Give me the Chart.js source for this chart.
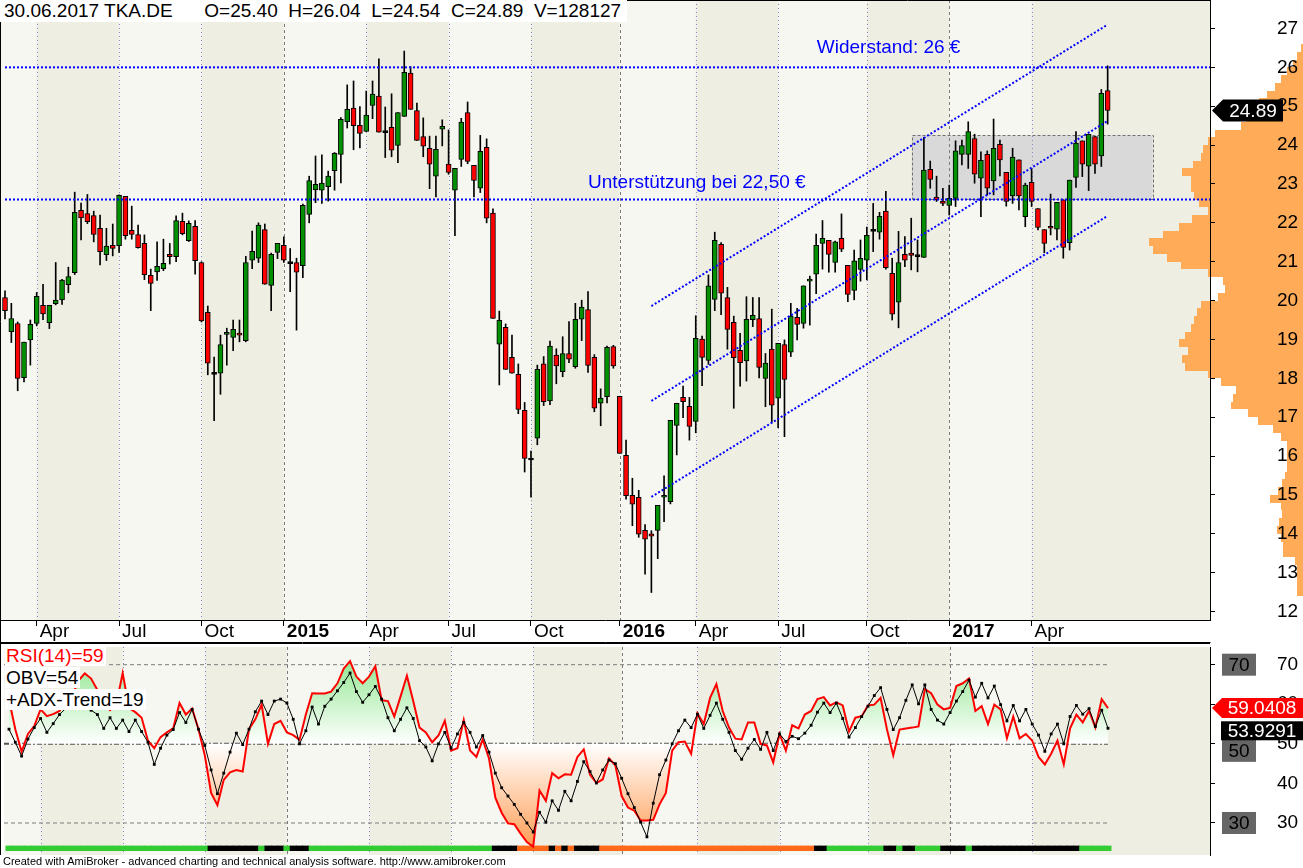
<!DOCTYPE html>
<html>
<head>
<meta charset="utf-8">
<title>TKA.DE weekly</title>
<script src="https://cdn.jsdelivr.net/npm/chart.js@4.4.1/dist/chart.umd.min.js"></script>
<style>
  body { margin: 0; background: #fff; font-family: "Liberation Sans", Arial, sans-serif; }
  #wrap { position: relative; width: 1303px; height: 868px; overflow: hidden; }
  canvas { position: absolute; left: 0; }
  #hdr { position: absolute; left: 0; top: 0; background: #fff; font-size: 19px; line-height: 22px; padding: 0 6px 0 4px; white-space: pre; }
  .tag { position: absolute; left: 5px; background: #fff; font-size: 19px; line-height: 21px; padding: 0 2px 0 1px; white-space: pre; }
  #foot { position: absolute; left: 3px; top: 855px; font-size: 11px; line-height: 13px; }
</style>
</head>
<body>
<div id="wrap">
  <canvas id="price" width="1303" height="643" style="top:0"></canvas>
  <canvas id="ind" width="1303" height="225" style="top:643px"></canvas>
  <div id="hdr"></div>
  <div class="tag" id="lblRsi" style="top:645px;color:#ff0000"></div>
  <div class="tag" id="lblObv" style="top:667px;color:#000"></div>
  <div class="tag" id="lblAdx" style="top:689px;color:#000"></div>
  <div id="foot">Created with AmiBroker - advanced charting and technical analysis software. http://www.amibroker.com</div>
</div>
<script>
// TKA.DE weekly bars, 28.02.2014 - 30.06.2017
var opens = [20.08,19.20,19.41,18.02,18.99,19.41,19.88,19.43,19.92,20.02,
  20.41,20.72,22.32,22.24,22.19,21.86,21.18,21.42,21.41,22.68,
  21.81,21.70,21.47,20.65,20.74,20.82,21.19,21.13,22.04,21.54,
  21.91,20.98,19.70,18.10,18.13,19.13,19.05,19.16,18.97,21.04,
  21.09,21.83,20.39,21.24,21.42,20.95,20.98,20.90,22.22,22.85,
  22.84,22.93,23.34,23.76,24.60,24.95,24.51,24.35,25.02,25.26,
  24.32,24.46,23.99,24.74,25.85,24.89,24.22,23.92,23.20,24.41,
  23.51,22.84,23.63,24.84,23.48,22.89,23.94,22.25,18.88,19.31,
  18.54,18.10,17.18,15.90,16.46,18.37,17.42,18.60,18.17,18.64,
  18.30,19.52,19.77,18.54,17.36,17.53,18.82,17.54,16.02,14.99,
  14.94,14.09,14.00,14.09,14.94,14.83,16.79,17.51,17.28,16.89,
  19.01,18.46,20.03,21.45,20.08,19.44,18.72,18.45,19.51,19.54,
  18.00,18.75,17.49,18.87,18.67,19.57,19.41,20.50,20.68,21.47,
  21.55,20.98,21.60,20.91,20.26,20.80,21.04,21.78,21.76,22.30,
  20.70,19.96,21.19,21.22,21.13,21.11,23.38,22.66,22.56,22.45,
  22.63,23.76,23.76,24.17,23.15,23.76,23.08,24.02,23.30,22.69,
  23.62,22.16,23.04,22.37,21.83,21.91,21.84,22.59,21.49,23.17,
  24.11,23.46,24.22,23.72,25.40];
var highs = [20.25,19.93,19.45,18.93,19.50,20.21,20.42,19.88,20.98,20.55,
  20.86,22.79,22.51,22.73,22.30,22.20,21.86,21.97,22.72,22.68,
  22.43,21.94,21.69,20.81,21.51,21.58,21.47,22.18,22.25,22.05,
  22.06,21.00,19.86,18.55,19.11,19.29,19.50,19.50,21.14,21.79,
  22.00,21.97,21.22,21.47,21.64,21.34,21.09,22.48,23.20,23.72,
  23.75,23.33,23.81,24.71,25.55,25.65,24.99,25.39,25.65,26.22,
  24.98,25.32,24.84,26.42,26.02,25.08,24.70,24.23,24.23,24.65,
  24.39,23.40,24.69,25.11,23.48,24.25,24.16,22.36,19.73,19.40,
  19.11,18.37,17.38,16.13,18.34,18.56,18.96,18.76,19.07,19.46,
  19.93,20.01,20.23,18.61,17.73,18.83,18.85,17.54,16.41,15.43,
  15.12,14.24,14.08,14.73,15.49,16.92,17.36,17.80,17.51,19.61,
  19.09,20.66,21.76,21.49,20.34,19.60,19.16,20.10,20.08,20.08,
  18.64,19.78,18.90,18.99,19.93,19.80,20.38,20.63,21.71,22.06,
  21.55,21.53,22.23,20.91,21.30,21.56,21.89,22.50,22.27,22.81,
  21.09,21.78,21.65,22.12,21.56,24.20,23.59,23.20,22.89,22.97,
  24.11,24.13,24.60,24.28,23.83,23.85,24.67,24.13,23.30,23.92,
  23.62,23.02,23.39,22.37,21.83,22.74,22.53,22.59,23.10,24.35,
  24.11,24.28,24.22,25.43,26.04];
var lows = [19.53,18.92,17.68,17.91,18.34,19.35,19.51,19.28,19.89,19.90,
  20.20,20.67,21.56,21.98,21.51,20.92,21.03,21.15,21.24,21.58,
  21.58,21.35,20.54,19.74,20.52,20.77,20.94,21.00,21.69,21.52,
  20.68,19.45,18.09,16.91,17.59,18.34,18.71,18.94,18.94,20.82,
  20.98,20.42,19.74,21.08,20.98,20.23,19.24,20.59,22.00,22.52,
  22.50,22.56,22.84,23.03,24.44,23.88,23.93,24.35,24.68,24.33,
  23.68,23.70,23.55,24.74,24.92,24.12,23.70,22.88,22.67,23.98,
  23.25,21.67,23.45,23.52,22.67,22.78,22.00,19.54,17.83,18.23,
  18.13,17.09,15.59,14.94,16.29,17.30,17.32,17.86,18.04,18.40,
  18.26,18.97,18.15,17.14,16.78,17.37,18.26,16.07,14.89,14.21,
  13.91,12.96,12.49,13.36,14.31,14.77,16.03,16.99,16.41,16.60,
  17.81,18.36,19.74,19.64,18.75,17.23,17.80,17.93,19.33,18.01,
  17.27,16.87,16.73,16.50,18.56,18.99,19.29,19.37,20.18,20.81,
  20.73,20.73,21.26,19.97,20.02,20.50,20.53,21.26,21.58,20.81,
  19.50,19.30,20.87,20.79,20.74,21.11,22.89,22.55,22.44,22.20,
  22.42,23.49,23.40,23.02,22.16,22.72,22.72,23.21,22.43,22.50,
  22.33,21.90,22.42,21.82,21.23,21.69,21.56,21.09,21.30,22.91,
  23.19,22.83,23.27,23.45,24.54];
var closes = [19.74,19.54,18.00,18.93,19.39,20.11,19.66,19.88,20.01,20.53,
  20.62,22.27,22.13,22.03,21.70,21.26,21.40,21.34,22.71,21.67,
  21.70,21.36,20.67,20.44,20.88,20.96,21.13,22.06,21.72,21.99,
  21.03,19.48,18.39,18.10,18.87,19.18,19.26,19.11,20.98,21.27,
  21.94,20.42,21.19,21.47,21.04,20.95,20.73,22.45,23.09,22.99,
  23.02,23.20,23.79,24.66,24.92,24.50,24.30,24.77,25.31,24.33,
  24.32,23.87,24.84,25.87,24.92,24.12,23.97,23.51,23.89,24.48,
  23.30,23.40,24.59,23.58,23.09,23.84,22.12,19.54,19.49,18.23,
  18.13,17.20,15.94,15.90,18.23,17.40,18.83,18.32,18.64,18.49,
  19.52,19.83,18.33,17.23,17.49,18.80,18.32,16.07,14.98,14.76,
  13.99,13.86,13.94,14.73,14.99,16.92,17.36,17.40,16.76,19.03,
  18.54,20.38,21.55,20.19,19.26,18.53,18.40,19.52,19.62,18.28,
  18.39,17.31,18.90,17.97,19.60,19.39,20.38,20.55,21.42,21.60,
  21.19,21.51,21.32,20.16,21.02,21.09,21.68,21.78,22.17,20.85,
  19.65,20.98,21.04,21.16,21.13,23.36,23.12,22.59,22.50,22.63,
  23.85,23.99,24.35,23.25,23.61,22.89,23.92,23.62,22.55,23.69,
  22.69,22.97,22.55,21.88,21.47,21.86,22.53,21.37,23.10,24.05,
  23.51,24.28,23.51,25.33,24.89];
var lastVolume = 128127;

// indicator pane
var rsi14 = [61.2,53.7,48.0,52.5,54.5,58.7,57.0,57.5,58.3,61.0,
  62.0,66.0,67.8,66.5,63.6,60.0,58.5,60.0,67.9,59.0,
  58.0,56.6,50.8,48.9,51.7,52.9,53.9,60.3,57.4,58.9,
  53.7,47.1,37.6,34.5,40.9,42.8,43.4,43.0,53.7,56.2,
  59.9,50.0,55.0,55.8,52.9,52.2,51.0,57.4,62.8,62.7,
  62.7,63.2,65.3,69.0,70.9,67.0,65.3,67.0,69.6,61.0,
  60.8,56.9,62.0,67.2,60.8,54.1,52.9,50.4,52.1,55.8,
  48.3,48.9,56.0,48.3,46.7,51.1,46.3,36.4,32.6,29.9,
  29.7,27.3,25.2,24.0,38.2,35.6,42.6,41.3,42.3,42.2,
  46.7,48.6,42.2,40.1,41.0,46.3,44.6,36.8,33.9,33.1,
  30.6,30.6,30.8,34.7,37.6,48.3,50.4,50.6,47.5,57.7,
  55.0,61.6,65.1,58.3,54.1,51.3,51.1,55.4,55.4,50.0,
  49.6,45.3,52.5,48.3,54.7,53.9,57.4,58.3,61.3,61.8,
  59.7,60.5,59.7,53.1,56.6,57.0,59.7,59.9,61.6,53.7,
  47.1,53.6,53.9,54.1,54.4,63.8,62.8,59.9,58.7,59.1,
  64.6,65.3,66.5,58.3,59.5,55.0,59.9,58.7,51.4,56.9,
  51.4,52.5,50.8,46.7,44.8,47.5,50.8,44.8,53.9,57.4,
  55.4,58.3,54.1,61.3,59.0408];
var obv = [53.7,50.4,46.9,51.2,54.1,56.4,52.9,55.1,57.4,59.0,
  60.5,61.5,60.0,58.5,57.4,53.9,56.6,53.9,56.0,53.1,
  56.0,53.1,50.4,44.8,48.9,52.2,53.6,57.9,55.4,58.7,
  53.7,49.6,43.4,37.4,42.6,47.9,52.7,49.8,53.7,58.1,
  60.8,57.4,60.8,61.3,60.3,56.2,50.0,53.3,59.3,55.0,
  59.5,61.3,63.4,65.5,67.9,63.2,60.5,62.4,64.5,61.3,
  56.6,53.3,56.2,59.1,56.4,50.8,49.2,45.7,50.0,52.9,
  48.9,52.5,55.4,52.9,49.2,52.1,47.9,42.6,38.9,36.8,
  34.7,32.2,30.0,27.7,32.7,30.2,35.6,33.2,38.0,35.6,
  40.5,45.5,43.0,40.1,43.4,45.9,45.0,41.3,37.4,33.9,
  30.2,26.5,35.0,42.2,45.9,50.0,53.3,56.0,54.1,57.5,
  53.9,57.2,60.3,56.2,52.9,48.3,46.1,48.9,51.1,48.6,
  52.9,48.3,52.5,50.6,51.9,51.3,52.7,54.7,58.0,60.3,
  57.9,60.3,56.4,51.7,54.1,56.9,59.5,62.2,64.2,58.7,
  53.6,56.6,61.0,64.9,60.1,64.9,58.7,56.0,55.0,57.9,
  60.8,63.2,66.1,61.8,65.3,61.6,64.6,59.9,55.8,59.7,
  55.8,58.7,55.0,52.2,48.1,52.5,55.0,50.0,56.9,59.7,
  57.5,58.9,54.4,58.5,53.9291];
var adxNow = 19;
// ADX trend state per bar, as runs of [state, bars]
var adxRuns = [["up",32],["none",8],["up",1],["none",3],["up",1],["none",3],["up",29],
  ["none",4],["down",5],["none",1],["down",1],["none",1],["down",1],["none",4],["down",34],
  ["none",2],["up",9],["none",2],["up",1],["none",2],["up",4],["none",4],["up",1],["none",17],["up",5]];

// axes
var quarterBars = [5, 18, 31, 44, 57, 70, 83, 97, 109, 122, 136, 149, 162];
var quarterLabels = ["Apr", "Jul", "Oct", "2015", "Apr", "Jul", "Oct", "2016", "Apr", "Jul", "Oct", "2017", "Apr"];
var priceTicks = [12, 13, 14, 15, 16, 17, 18, 19, 20, 21, 22, 23, 24, 25, 26, 27];
var rsiTicks = [30, 40, 50, 60, 70];

// drawn studies
var resistance = 26.0;
var support = 22.6;
var channelBars = [102, 174];
var channelUpper = [19.86, 27.10];
var channelMiddle = [17.42, 24.62];
var channelLower = [14.95, 22.18];
var rangeBoxBars = [143.1, 181.1];
var rangeBoxPrices = [22.6, 24.25];
var noteTexts = ["Widerstand: 26 \u20ac", "Unterst\u00fctzung bei 22,50 \u20ac"];
var noteBars = [128.1, 92.0];
var notePrices = [26.5, 23.03];

// volume at price (relative)
var profilePrices = [26.5,26.3,26.1,25.9,25.7,25.5,25.3,25.1,24.9,24.7,
  24.5,24.3,24.1,23.9,23.7,23.5,23.3,23.1,22.9,22.7,
  22.5,22.3,22.1,21.9,21.7,21.5,21.3,21.1,20.9,20.7,
  20.5,20.3,20.1,19.9,19.7,19.5,19.3,19.1,18.9,18.7,
  18.5,18.3,18.1,17.9,17.7,17.5,17.3,17.1,16.9,16.7,
  16.5,16.3,16.1,15.9,15.7,15.5,15.3,15.1,14.9,14.7,
  14.5,14.3,14.1,13.9,13.7,13.5,13.3,13.1,12.9,12.7,12.5];
var profileVolume = [2,6,10,16,22,28,36,44,52,57,
  62,88,95,100,102,110,121,112,112,109,
  104,95,111,124,140,154,150,136,122,95,
  80,78,85,102,106,109,112,118,124,115,
  121,118,95,82,67,70,72,55,45,30,
  22,16,16,16,16,18,21,25,33,22,
  21,24,26,22,20,20,8,6,6,6,6];

Chart.defaults.font.family = '"Liberation Sans", Arial, Helvetica, sans-serif';
Chart.defaults.font.size = 19;
Chart.defaults.color = '#000';

var X_MIN = -0.79, X_MAX = 190.15;
var last = closes.length - 1;
var FONT = '19px "Liberation Sans", Arial, sans-serif';

function drawBands(ctx, area, x) {
  ctx.fillStyle = '#f7f7f1';
  ctx.fillRect(area.left, area.top, area.width, area.height);
  ctx.fillStyle = '#efeee3';
  for (var q = 0; q < quarterBars.length; q += 2) {
    var a = x.getPixelForValue(quarterBars[q]);
    var b = q + 1 < quarterBars.length ? x.getPixelForValue(quarterBars[q + 1]) : area.right;
    ctx.fillRect(a, area.top, b - a, area.height);
  }
}

function drawQuarterLines(ctx, area, x) {
  ctx.lineWidth = 1;
  quarterBars.forEach(function (b, q) {
    var px = Math.round(x.getPixelForValue(b)) + 0.5;
    var isYear = /^\d{4}$/.test(quarterLabels[q]);
    ctx.strokeStyle = isYear ? '#7a7a7a' : '#8585d0';
    ctx.setLineDash(isYear ? [3, 3] : [1, 3]);
    ctx.beginPath();
    ctx.moveTo(px, area.top);
    ctx.lineTo(px, area.bottom);
    ctx.stroke();
  });
  ctx.setLineDash([]);
}

function arrowTag(ctx, tipX, yc, boxX, boxR, h, bg, text, textX) {
  ctx.fillStyle = bg;
  ctx.beginPath();
  ctx.moveTo(tipX, yc);
  ctx.lineTo(boxX, yc - h / 2);
  ctx.lineTo(boxR, yc - h / 2);
  ctx.lineTo(boxR, yc + h / 2);
  ctx.lineTo(boxX, yc + h / 2);
  ctx.closePath();
  ctx.fill();
  ctx.fillStyle = '#fff';
  ctx.font = FONT;
  ctx.textAlign = 'center';
  ctx.textBaseline = 'middle';
  ctx.fillText(text, textX, yc + 1);
}

var priceDecor = {
  id: 'priceDecor',
  beforeDraw: function (chart) {
    var ctx = chart.ctx, area = chart.chartArea, x = chart.scales.x, y = chart.scales.y;
    ctx.save();
    drawBands(ctx, area, x);
    // consolidation box
    var bx0 = x.getPixelForValue(rangeBoxBars[0]), bx1 = x.getPixelForValue(rangeBoxBars[1]);
    var by0 = y.getPixelForValue(rangeBoxPrices[1]), by1 = y.getPixelForValue(rangeBoxPrices[0]);
    ctx.fillStyle = '#d9d9d9';
    ctx.fillRect(bx0, by0, bx1 - bx0, by1 - by0);
    ctx.strokeStyle = '#707070';
    ctx.lineWidth = 1;
    ctx.setLineDash([3, 2]);
    ctx.strokeRect(Math.round(bx0) + 0.5, Math.round(by0) + 0.5, Math.round(bx1 - bx0), Math.round(by1 - by0));
    ctx.setLineDash([]);
    drawQuarterLines(ctx, area, x);
    // volume profile, anchored at the right edge
    ctx.fillStyle = '#ffab58';
    profilePrices.forEach(function (p, k) {
      var top = Math.round(y.getPixelForValue(p + 0.1));
      var bot = Math.round(y.getPixelForValue(p - 0.1));
      var w = profileVolume[k];
      ctx.fillRect(chart.width - w, top, w, bot - top);
    });
    ctx.restore();
  },
  afterDatasetsDraw: function (chart) {
    var ctx = chart.ctx, x = chart.scales.x, y = chart.scales.y;
    ctx.save();
    ctx.fillStyle = '#0000ff';
    ctx.font = FONT;
    ctx.textAlign = 'left';
    ctx.textBaseline = 'middle';
    noteTexts.forEach(function (t, k) {
      ctx.fillText(t, x.getPixelForValue(noteBars[k]), y.getPixelForValue(notePrices[k]));
    });
    ctx.restore();
  },
  afterDraw: function (chart) {
    var ctx = chart.ctx, area = chart.chartArea, y = chart.scales.y;
    ctx.save();
    ctx.strokeStyle = '#000';
    ctx.lineWidth = 1;
    ctx.beginPath();
    ctx.moveTo(0.5, 0); ctx.lineTo(0.5, chart.height);
    ctx.moveTo(0, 0.5); ctx.lineTo(area.right, 0.5);
    ctx.moveTo(0, chart.height - 0.5); ctx.lineTo(area.right + 0.5, chart.height - 0.5);
    ctx.stroke();
    var yc = y.getPixelForValue(closes[last]);
    arrowTag(ctx, area.right + 2, yc, area.right + 13, area.right + 73, 22, '#000', closes[last].toFixed(2), area.right + 43);
    ctx.restore();
  }
};

function seg(x0, x1, y0, y1) { return [{ x: x0, y: y0 }, { x: x1, y: y1 }]; }
var blueDots = { type: 'line', borderColor: '#0000ff', borderWidth: 2, borderDash: [2, 2], pointRadius: 0, fill: false, order: 0 };

var bodyColors = opens.map(function (o, i) {
  return closes[i] > o ? '#009000' : (closes[i] < o ? '#ff0000' : '#000000');
});

new Chart(document.getElementById('price'), {
  type: 'bar',
  data: {
    datasets: [
      Object.assign({ label: 'Widerstand', data: seg(0, X_MAX, resistance, resistance) }, blueDots),
      Object.assign({ label: 'Unterstuetzung', data: seg(0, X_MAX, support, support) }, blueDots),
      Object.assign({ label: 'Kanal oben', data: seg(channelBars[0], channelBars[1], channelUpper[0], channelUpper[1]) }, blueDots),
      Object.assign({ label: 'Kanal Mitte', data: seg(channelBars[0], channelBars[1], channelMiddle[0], channelMiddle[1]) }, blueDots),
      Object.assign({ label: 'Kanal unten', data: seg(channelBars[0], channelBars[1], channelLower[0], channelLower[1]) }, blueDots),
      {
        label: 'Body',
        data: opens.map(function (o, i) { return { x: i, y: [o, closes[i]] }; }),
        backgroundColor: bodyColors,
        borderColor: '#000',
        borderWidth: 1,
        borderSkipped: false,
        barThickness: 5,
        minBarLength: 2,
        grouped: false,
        order: 1
      },
      {
        label: 'Wick',
        data: lows.map(function (l, i) { return { x: i, y: [l, highs[i]] }; }),
        backgroundColor: '#000',
        borderWidth: 0,
        barThickness: 1,
        grouped: false,
        order: 2
      }
    ]
  },
  options: {
    responsive: false,
    animation: false,
    events: [],
    layout: { padding: 0 },
    plugins: { legend: { display: false }, tooltip: { enabled: false } },
    scales: {
      x: {
        type: 'linear',
        min: X_MIN,
        max: X_MAX,
        bounds: 'data',
        offset: false,
        grid: { display: true, offset: false, drawOnChartArea: false, drawTicks: true, tickLength: 6, color: '#000' },
        border: { display: true, color: '#000' },
        afterBuildTicks: function (s) { s.ticks = quarterBars.map(function (v) { return { value: v }; }); },
        afterFit: function (s) { s.height = 23; s.paddingLeft = 0; s.paddingRight = 0; },
        ticks: {
          autoSkip: false,
          maxRotation: 0,
          align: 'start',
          labelOffset: 3,
          padding: -6,
          color: '#000',
          callback: function (v) { var k = quarterBars.indexOf(v); return k >= 0 ? quarterLabels[k] : ''; },
          font: function (c) {
            var k = c.tick ? quarterBars.indexOf(c.tick.value) : -1;
            return { size: 19, weight: (k >= 0 && /^\d{4}$/.test(quarterLabels[k])) ? 'bold' : 'normal' };
          }
        }
      },
      y: {
        position: 'right',
        min: 11.783,
        max: 27.733,
        bounds: 'data',
        grid: { display: true, drawOnChartArea: false, drawTicks: true, tickLength: 5, color: '#000' },
        border: { display: true, color: '#000' },
        afterBuildTicks: function (s) { s.ticks = priceTicks.map(function (v) { return { value: v }; }); },
        afterFit: function (s) { s.width = 93; s.paddingTop = 0; s.paddingBottom = 0; },
        ticks: { padding: 62, color: '#000', font: { size: 19 } }
      }
    }
  },
  plugins: [priceDecor]
});

// ---- indicator pane ----
var adxColorOf = { up: '#33cc33', none: '#000000', down: '#ff6a1a' };
var adxColors = [];
adxRuns.forEach(function (r) { for (var n = 0; n < r[1]; n++) adxColors.push(adxColorOf[r[0]]); });
var STRIP = [23.0, 24.2];

var indDecor = {
  id: 'indDecor',
  beforeDraw: function (chart) {
    var ctx = chart.ctx, area = chart.chartArea, x = chart.scales.x;
    ctx.save();
    drawBands(ctx, area, x);
    drawQuarterLines(ctx, area, x);
    ctx.restore();
  },
  afterDraw: function (chart) {
    var ctx = chart.ctx, area = chart.chartArea, y = chart.scales.y;
    ctx.save();
    ctx.strokeStyle = '#000';
    ctx.lineWidth = 1;
    ctx.beginPath();
    ctx.moveTo(0.5, 0); ctx.lineTo(0.5, area.bottom);
    ctx.moveTo(0, 0.5); ctx.lineTo(area.right, 0.5);
    ctx.stroke();
    // level boxes
    [[70, 0], [50, 7], [30, 0]].forEach(function (lv) {
      var yc = y.getPixelForValue(lv[0]) + lv[1];
      ctx.fillStyle = '#666666';
      ctx.fillRect(area.right + 12, yc - 11, 34, 22);
      ctx.fillStyle = '#000';
      ctx.font = FONT;
      ctx.textAlign = 'center';
      ctx.textBaseline = 'middle';
      ctx.fillText(String(lv[0]), area.right + 29, yc + 1);
    });
    arrowTag(ctx, area.right + 2, y.getPixelForValue(rsi14[last]), area.right + 12, chart.width, 20, '#ff0000', rsi14[last].toFixed(4), area.right + 52);
    var yo = y.getPixelForValue(obv[last]) + 2;
    ctx.fillStyle = '#000';
    ctx.fillRect(area.right + 11, yo - 9, chart.width - area.right - 11, 19);
    ctx.fillStyle = '#fff';
    ctx.textAlign = 'center';
    ctx.fillText(obv[last].toFixed(4), area.right + 52, yo + 1);
    ctx.restore();
  }
};

function rsiFill(c) {
  var chart = c.chart, s = chart.scales && chart.scales.y;
  if (!s || !chart.chartArea) return 'rgba(0,0,0,0)';
  var y0 = s.getPixelForValue(72), y1 = s.getPixelForValue(24);
  var g = chart.ctx.createLinearGradient(0, y0, 0, y1);
  g.addColorStop(0, '#8fe68f');
  g.addColorStop((72 - 50) / (72 - 24), '#ffffff');
  g.addColorStop(1, '#ff9d55');
  return g;
}

new Chart(document.getElementById('ind'), {
  type: 'line',
  data: {
    datasets: [
      {
        label: 'OBV',
        data: obv.map(function (v, i) { return { x: i, y: v }; }),
        borderColor: '#000',
        borderWidth: 1,
        pointStyle: 'rect',
        pointRadius: 2,
        pointBorderWidth: 0,
        pointBackgroundColor: '#000',
        fill: false,
        order: 0
      },
      {
        label: 'RSI(14)',
        data: rsi14.map(function (v, i) { return { x: i, y: v }; }),
        borderColor: '#ff0000',
        borderWidth: 2,
        pointRadius: 0,
        backgroundColor: rsiFill,
        fill: { value: 50 },
        order: 1
      },
      { label: '70', data: seg(X_MIN, last, 70, 70), borderColor: '#7a7a7a', borderWidth: 1, borderDash: [4, 3], pointRadius: 0, fill: false, order: 2 },
      { label: '30', data: seg(X_MIN, last, 30, 30), borderColor: '#7a7a7a', borderWidth: 1, borderDash: [4, 3], pointRadius: 0, fill: false, order: 2 },
      { label: '50', data: seg(X_MIN, last, 50, 50), borderColor: '#555555', borderWidth: 2, borderDash: [5, 2, 2, 2], pointRadius: 0, fill: false, order: 2 },
      {
        type: 'bar',
        label: 'ADX-Trend',
        data: adxColors.map(function (col, i) { return { x: i, y: STRIP }; }),
        backgroundColor: adxColors,
        borderWidth: 0,
        barPercentage: 1,
        categoryPercentage: 1,
        grouped: false,
        order: 3
      }
    ]
  },
  options: {
    responsive: false,
    animation: false,
    events: [],
    layout: { padding: { left: 0, right: 0, top: 0, bottom: 13 } },
    plugins: { legend: { display: false }, tooltip: { enabled: false } },
    scales: {
      x: {
        type: 'linear',
        min: X_MIN,
        max: X_MAX,
        bounds: 'data',
        offset: false,
        display: false,
        grid: { offset: false }
      },
      y: {
        position: 'right',
        min: 21.91,
        max: 74.47,
        bounds: 'data',
        grid: { display: true, drawOnChartArea: false, drawTicks: true, tickLength: 5, color: '#000' },
        border: { display: true, color: '#000' },
        afterBuildTicks: function (s) { s.ticks = rsiTicks.map(function (v) { return { value: v }; }); },
        afterFit: function (s) { s.width = 93; s.paddingTop = 0; s.paddingBottom = 0; },
        ticks: { padding: 62, color: '#000', font: { size: 19 } }
      }
    }
  },
  plugins: [indDecor]
});

document.getElementById('hdr').textContent = '30.06.2017 TKA.DE      O=' + opens[last].toFixed(2) +
  '  H=' + highs[last].toFixed(2) + '  L=' + lows[last].toFixed(2) + '  C=' + closes[last].toFixed(2) +
  '  V=' + lastVolume;
document.getElementById('lblRsi').textContent = 'RSI(14)=' + Math.round(rsi14[last]);
document.getElementById('lblObv').textContent = 'OBV=' + Math.round(obv[last]);
document.getElementById('lblAdx').textContent = '+ADX-Trend=' + adxNow;
</script>
</body>
</html>
